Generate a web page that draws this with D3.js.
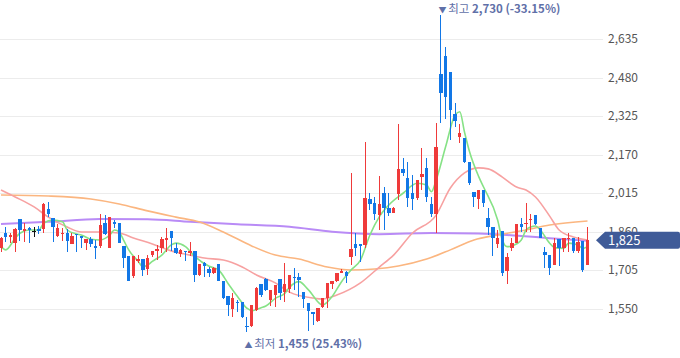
<!DOCTYPE html>
<html><head><meta charset="utf-8">
<script src="https://cdn.jsdelivr.net/npm/d3@7"></script>
<style>html,body{margin:0;padding:0;background:#fff;} svg{display:block;}</style>
</head><body>
<svg id="chart" width="680" height="358"></svg>
<script>
// ---- data (daily candles, oldest -> newest) ----
const open  = [1795,1855,1837,1815,1910,1862,1873,1863,1870,1869,1951,1916,1843,1849,1855,1810,1849,1842,1815,1829,1802,1803,1893,1795,1900,1893,1802,1761,1681,1742,1749,1708,1765,1782,1795,1826,1862,1792,1768,1783,1775,1782,1685,1732,1708,1694,1728,1661,1600,1547,1577,1577,1481,1481,1544,1647,1668,1584,1604,1668,1616,1627,1678,1676,1618,1571,1537,1500,1557,1591,1649,1662,1694,1698,1759,1809,1809,1806,1990,1974,1926,2016,1953,1936,2010,2112,2074,2016,1996,2081,2114,1971,1929,2494,2567,2503,2333,2239,2235,2141,2020,1991,2027,1913,1879,1809,1862,1702,1795,1815,1889,1890,1906,1926,1873,1779,1765,1725,1829,1795,1829,1833,1782,1823,1725];
const high  = [1838,1877,1853,1873,1910,1893,1879,1879,1882,1975,1980,1916,1889,1875,1869,1853,1849,1842,1829,1839,1826,1930,1926,1920,1906,1893,1802,1761,1761,1765,1749,1765,1782,1806,1839,1873,1862,1813,1788,1783,1819,1782,1728,1738,1716,1718,1728,1661,1600,1611,1584,1577,1517,1564,1638,1647,1672,1625,1645,1668,1732,1685,1712,1694,1618,1571,1537,1551,1594,1651,1661,1694,1708,1701,2094,1855,1809,2219,2014,2000,2083,2040,2014,1960,2292,2155,2141,2088,2067,2195,2155,2000,2296,2730,2602,2503,2376,2293,2235,2141,2020,2027,2027,1953,1879,1866,1862,1775,1833,1889,1913,1974,1929,1926,1873,1799,1765,1833,1829,1835,1853,1833,1839,1823,1879];
const low   = [1779,1819,1812,1779,1823,1819,1815,1839,1849,1853,1920,1819,1839,1823,1779,1810,1779,1795,1786,1799,1748,1792,1846,1795,1875,1813,1712,1661,1672,1734,1679,1685,1759,1745,1775,1779,1782,1769,1759,1741,1761,1658,1681,1678,1678,1688,1662,1587,1520,1517,1537,1511,1455,1477,1541,1598,1621,1560,1555,1584,1577,1611,1625,1598,1551,1460,1484,1497,1553,1553,1627,1658,1692,1651,1725,1761,1738,1794,1947,1906,1866,1866,1922,1933,1987,2085,1960,1947,1987,2027,1978,1920,1853,2298,2312,2228,2280,2215,2135,2047,1960,1949,1957,1846,1763,1795,1681,1649,1782,1815,1859,1859,1859,1886,1833,1714,1685,1725,1722,1779,1779,1772,1772,1698,1725];
const close = [1833,1837,1846,1870,1866,1870,1866,1863,1862,1971,1929,1879,1875,1855,1822,1843,1846,1835,1829,1810,1795,1886,1850,1920,1890,1815,1755,1661,1761,1751,1707,1755,1782,1788,1829,1835,1833,1775,1786,1776,1783,1685,1728,1722,1694,1714,1662,1591,1564,1591,1573,1517,1474,1564,1634,1604,1625,1625,1645,1611,1649,1685,1672,1665,1587,1541,1527,1551,1591,1651,1661,1694,1701,1681,1790,1795,1802,1996,1971,1929,1970,1953,1936,1953,2112,2094,1996,1990,2067,2092,2000,1929,2201,2419,2403,2349,2306,2258,2141,2054,2000,2027,1974,1879,1833,1833,1694,1759,1813,1889,1879,1895,1909,1889,1835,1765,1712,1813,1795,1835,1835,1783,1819,1705,1825];

// moving averages (day index -> value)
const ma5Idx  = [0,1,3,4,6,8,9,11,13,14,16,17,19,21,23,24,25,26,27,29,30,31,32,34,36,37,39,41,44,46,48,50,52,53,55,56,58,60,61,63,65,68,70,72,74,76,78,80,82,85,88,90,91,92,94,96,97,98,99,101,102,105,106,107,108,110,111,112,113,114,116,117,119,120,122,123,124];
const ma5Val  = [1799,1786,1833,1853,1866,1866,1893,1906,1899,1866,1850,1846,1829,1826,1846,1866,1858,1822,1786,1740,1718,1725,1740,1765,1806,1813,1799,1759,1720,1705,1651,1598,1551,1541,1553,1560,1591,1611,1635,1658,1625,1564,1598,1658,1705,1745,1846,1920,1967,2014,2054,2047,2020,2067,2201,2329,2342,2260,2185,2081,2040,1906,1826,1799,1802,1826,1866,1878,1882,1866,1813,1795,1792,1813,1806,1792,1799];
const ma20Idx = [0,3,7,10,14,17,21,25,28,32,36,40,43,47,51,54,58,61,66,68,71,76,80,83,87,92,95,98,101,103,106,109,111,113,116,118,121,124];
const ma20Val = [2027,1999,1959,1918,1878,1858,1858,1854,1834,1810,1782,1765,1753,1745,1717,1685,1653,1616,1592,1588,1604,1653,1717,1765,1854,1926,2035,2096,2116,2112,2079,2039,2027,1999,1922,1866,1838,1826];
const ma60Idx = [0,10,19,25,31,37,42,47,53,58,63,69,74,79,84,90,95,100,105,111,116,124];
const ma60Val = [2007,2003,1991,1971,1943,1918,1898,1858,1802,1765,1749,1717,1705,1709,1721,1749,1786,1826,1846,1866,1886,1902];
const ma120Idx = [0,10,21,31,40,50,61,70,80,91,101,110,116,124];
const ma120Val = [1890,1899,1910,1909,1899,1889,1879,1859,1849,1854,1852,1842,1833,1823];

const yTicks = [1550,1705,1860,2015,2170,2325,2480,2635];
const lastPrice = 1825;
const highLabel = {idx:93, value:2730, word:"최고", pct:"(-33.15%)"};
const lowLabel  = {idx:52, value:1455, word:"최저", pct:"(25.43%)"};

// ---- drawing ----
const svg = d3.select("#chart");
const W = 680, H = 358;
const plotRight = 603;
const x = d3.scaleLinear().domain([0, open.length-1]).range([1, 587.5]);
const y = d3.scaleLinear().domain([1550, 2635]).range([308.5, 39]);
const fmt = d3.format(",");
const FONT = "'Noto Sans CJK KR','Noto Sans',sans-serif";

// grid
svg.append("g").selectAll("line").data(yTicks).join("line")
  .attr("x1", 0).attr("x2", plotRight)
  .attr("y1", d => Math.round(y(d)) + 0.5).attr("y2", d => Math.round(y(d)) + 0.5)
  .attr("stroke", "#ececec").attr("stroke-width", 1);

// axis labels
svg.append("g").selectAll("text").data(yTicks).join("text")
  .attr("x", 608).attr("y", d => y(d)).attr("dy", "0.35em")
  .attr("font-family", FONT).attr("font-size", 12).attr("fill", "#555")
  .text(d => fmt(d));

// moving averages
const lineGen = d3.line().x(d => x(d[0])).y(d => y(d[1])).curve(d3.curveMonotoneX);
const mas = [
  {idx: ma120Idx, val: ma120Val, color: "#b98bf6", w: 2},
  {idx: ma60Idx,  val: ma60Val,  color: "#fbb680", w: 1.6},
  {idx: ma20Idx,  val: ma20Val,  color: "#f7a1a1", w: 1.6},
  {idx: ma5Idx,   val: ma5Val,   color: "#86e286", w: 1.6}
];
const gl = svg.append("g");
mas.forEach(m => {
  gl.append("path").datum(m.idx.map((d, i) => [d, m.val[i]]))
    .attr("d", lineGen).attr("fill", "none")
    .attr("stroke", m.color).attr("stroke-width", m.w);
});

// candles
const candles = open.map((o, i) => ({i, o, h: high[i], l: low[i], c: close[i]}));
const colorOf = d => d.c > d.o ? "#ef3a3a" : (d.c < d.o ? "#1277e6" : "#111");
const gc = svg.append("g").attr("shape-rendering", "crispEdges");
gc.selectAll(".wick").data(candles).join("rect")
  .attr("x", d => Math.round(x(d.i) - 0.5)).attr("width", 1)
  .attr("y", d => y(d.h)).attr("height", d => Math.max(1, y(d.l) - y(d.h)))
  .attr("fill", colorOf);
gc.selectAll(".body").data(candles).join("rect")
  .attr("x", d => x(d.i) - 1.7).attr("width", 3.4)
  .attr("y", d => y(Math.max(d.o, d.c)))
  .attr("height", d => Math.max(1, Math.abs(y(d.o) - y(d.c))))
  .attr("fill", colorOf);

// high / low annotations
const annColor = "#5f70a8";
function annotate(info, yPos, arrow) {
  const t = svg.append("text").attr("x", x(info.idx) - 2.5).attr("y", yPos)
    .attr("dy", "0.35em").attr("font-family", FONT).attr("font-size", 11.5).attr("fill", annColor);
  t.append("tspan").attr("font-size", 8).text(arrow + " ");
  t.append("tspan").text(info.word + " ");
  t.append("tspan").attr("font-weight", "bold").text(fmt(info.value) + " " + info.pct);
}
annotate(highLabel, 9, "▼");
annotate(lowLabel, 343.5, "▲");

// current price tag
const py = y(lastPrice);
svg.append("path")
  .attr("d", `M596,${py} L605,${py-8.5} L678,${py-8.5} Q680,${py-8.5} 680,${py-6.5} L680,${py+6.5} Q680,${py+8.5} 678,${py+8.5} L605,${py+8.5} Z`)
  .attr("fill", "#3f5b98");
svg.append("text").attr("x", 608).attr("y", py).attr("dy", "0.36em")
  .attr("font-family", FONT).attr("font-size", 13).attr("fill", "#fff")
  .text(fmt(lastPrice));
</script>
</body></html>
